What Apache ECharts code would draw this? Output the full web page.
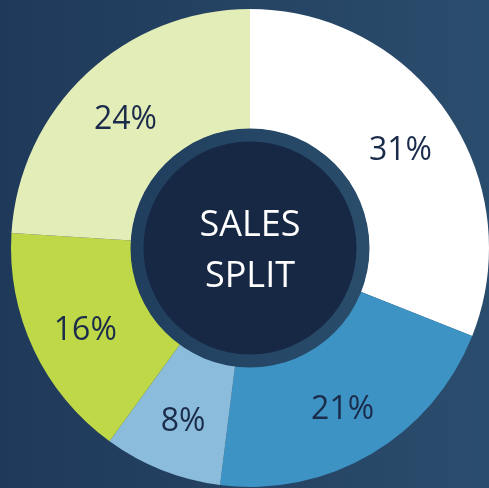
<!DOCTYPE html>
<html>
<head>
<meta charset="utf-8">
<script src="https://cdn.jsdelivr.net/npm/echarts@6/dist/echarts.min.js"></script>
<style>
html,body{margin:0;padding:0;background:#243f60;}
#chart{width:489px;height:488px;}
</style>
</head>
<body>
<div id="chart"></div>
<script>
const categories = ['A', 'B', 'C', 'D', 'E'];
const values = [31, 21, 8, 16, 24];
const colors = ['#ffffff', '#3d93c4', '#8bbcdb', '#bfd847', '#e3edb8'];
const centerTitle = 'SALES\nSPLIT';

const chart = echarts.init(document.getElementById('chart'), null, {renderer: 'canvas'});
const cx = 250, cy = 248;
chart.setOption({
  animation: false,
  backgroundColor: {
    type: 'linear', x: 0, y: 0, x2: 1, y2: 0,
    colorStops: [{offset: 0, color: '#1f395a'}, {offset: 1, color: '#2b4d6d'}]
  },
  series: [{
    type: 'pie',
    center: [cx, cy],
    radius: [119, 239],
    startAngle: 90,
    clockwise: true,
    silent: true,
    label: {
      show: true,
      position: 'inside',
      formatter: p => p.value + '%',
      fontFamily: 'Open Sans',
      fontSize: 32,
      color: '#1b2c4b',
      offset: [0, 5]
    },
    labelLine: {show: false},
    itemStyle: {borderWidth: 0},
    data: categories.map((c, i) => ({name: c, value: values[i], itemStyle: {color: colors[i]}}))
  }],
  graphic: [
    {
      type: 'circle', z: 10,
      shape: {cx: cx, cy: cy, r: 119.5},
      style: {fill: {type: 'linear', x: 0, y: 0, x2: 1, y2: 0,
        colorStops: [{offset: 0, color: '#203e5e'}, {offset: 1, color: '#2a4d6c'}]}}
    },
    {
      type: 'circle', z: 11,
      shape: {cx: cx, cy: cy, r: 106.5},
      style: {fill: '#172845'}
    },
    {
      type: 'text', z: 12,
      x: cx, y: cy + 3,
      style: {
        text: centerTitle,
        fill: '#ffffff',
        fontFamily: 'Open Sans',
        fontSize: 36,
        lineHeight: 51,
        align: 'center',
        verticalAlign: 'middle'
      }
    }
  ]
});
</script>
</body>
</html>
